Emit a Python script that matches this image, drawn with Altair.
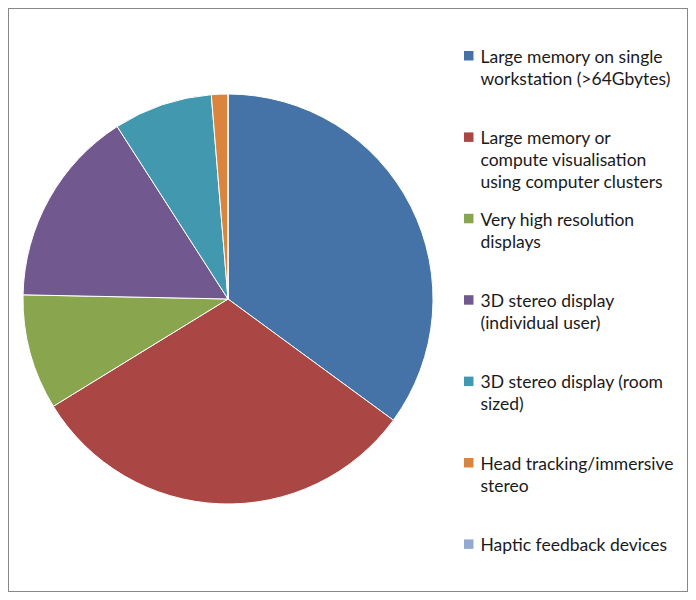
import altair as alt
import pandas as pd

categories = [
    "Large memory on single|workstation (>64Gbytes)",
    "Large memory or|compute visualisation|using computer clusters",
    "Very high resolution|displays",
    "3D stereo display|(individual user)",
    "3D stereo display (room|sized)",
    "Head tracking/immersive|stereo",
    "Haptic feedback devices",
]
values = [27, 24, 7, 12, 6, 1, 0]
colors = ["#4572A7", "#AA4643", "#89A54E", "#71588F", "#4198AF", "#DB843D", "#93A9CF"]

df = pd.DataFrame({"category": categories, "value": values, "order": list(range(len(values)))})

chart = alt.Chart(df).mark_arc(
    outerRadius=205, stroke="white", strokeWidth=1, x=220, y=291
).encode(
    theta=alt.Theta("value:Q", stack=True),
    order=alt.Order("order:Q"),
    color=alt.Color(
        "category:N",
        scale=alt.Scale(domain=categories, range=colors),
        sort=categories,
        legend=alt.Legend(
            title=None,
            orient="none",
            legendX=452,
            legendY=39,
            symbolType="square",
            symbolSize=90,
            symbolStrokeWidth=0,
            labelExpr="split(datum.label, '|')",
            labelFont="Lato",
            labelFontSize=17.5,
            labelColor="#1a1a1a",
            labelLimit=400,
            labelOffset=3,
            labelBaseline="top",
            gridAlign="all",
            rowPadding=17.4,
            padding=0,
        ),
    ),
).properties(
    width=680, height=584, padding=0,
    view=alt.ViewBackground(stroke="#888888", strokeWidth=2),
).configure(
    style={"guide-label": {"lineHeight": 22, "dy": -7}}
)

chart.save("out.html", embed_options={"renderer": "svg", "actions": False})
